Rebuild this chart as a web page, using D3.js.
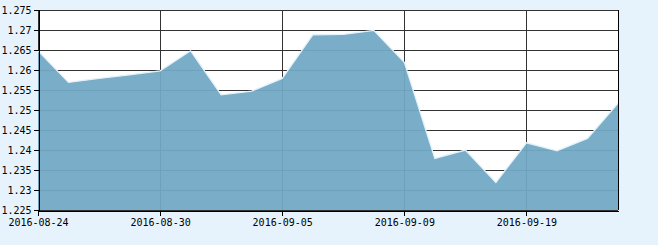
<!DOCTYPE html>
<html>
<head>
<meta charset="utf-8">
<script src="https://cdn.jsdelivr.net/npm/d3@7"></script>
<style>
  body { margin: 0; background: #e7f3fc; }
  text { font-family: "DejaVu Sans Mono", "Liberation Mono", monospace; font-size: 10px; fill: #000; }
</style>
</head>
<body>
<div id="chart"></div>
<script>
// trading days and closing values
const dates = ["2016-08-24","2016-08-25","2016-08-26","2016-08-29","2016-08-30",
  "2016-08-31","2016-09-01","2016-09-02","2016-09-05","2016-09-06",
  "2016-09-07","2016-09-08","2016-09-09","2016-09-12","2016-09-13",
  "2016-09-14","2016-09-19","2016-09-20","2016-09-21","2016-09-22"];
const values = [1.2648, 1.2569, 1.2579, 1.2588, 1.2598,
  1.2648, 1.2538, 1.2547, 1.2579, 1.2688,
  1.2689, 1.2699, 1.2619, 1.2379, 1.2400,
  1.2319, 1.2418, 1.2398, 1.2429, 1.2517];
const xTicks = ["2016-08-24","2016-08-30","2016-09-05","2016-09-09","2016-09-19"];
const yTicks = [1.225,1.23,1.235,1.24,1.245,1.25,1.255,1.26,1.265,1.27,1.275];

const W = 658, H = 245;
const m = {left: 38, right: 40, top: 10, bottom: 35};

const svg = d3.select("#chart").append("svg").attr("width", W).attr("height", H);

const x = d3.scalePoint().domain(dates).range([m.left, W - m.right]);
const y = d3.scaleLinear().domain([1.225, 1.275]).range([H - m.bottom, m.top]);

// plot background
svg.append("rect")
  .attr("x", m.left).attr("y", m.top)
  .attr("width", W - m.right - m.left).attr("height", H - m.bottom - m.top)
  .attr("fill", "#fff");

// grid
const g = svg.append("g").attr("shape-rendering", "crispEdges");
g.selectAll(".hy").data(yTicks).enter().append("line")
  .attr("x1", m.left).attr("x2", W - m.right)
  .attr("y1", d => Math.round(y(d)) + 0.5).attr("y2", d => Math.round(y(d)) + 0.5)
  .attr("stroke", "#333");
g.selectAll(".vx").data(xTicks).enter().append("line")
  .attr("x1", d => Math.round(x(d)) + 0.5).attr("x2", d => Math.round(x(d)) + 0.5)
  .attr("y1", m.top).attr("y2", H - m.bottom)
  .attr("stroke", "#333");

// area
const area = d3.area()
  .x((d, i) => x(dates[i]))
  .y0(y(1.225))
  .y1(d => y(d));
svg.append("path").datum(values)
  .attr("d", area)
  .attr("fill", "#72a8c5")
  .attr("fill-opacity", 0.94);
const line = d3.line().x((d, i) => x(dates[i])).y(d => y(d));
svg.append("path").datum(values)
  .attr("d", line)
  .attr("fill", "none")
  .attr("stroke", "#e2f1fa")
  .attr("stroke-width", 1.3);

// right border
svg.append("line")
  .attr("x1", W - m.right + 0.5).attr("x2", W - m.right + 0.5)
  .attr("y1", m.top).attr("y2", H - m.bottom)
  .attr("stroke", "#000").attr("shape-rendering", "crispEdges");

// axes
const yAxis = svg.append("g")
  .attr("transform", `translate(${m.left + 0.5},0)`)
  .attr("shape-rendering", "crispEdges")
  .call(d3.axisLeft(y).tickValues(yTicks).tickSize(5).tickPadding(2)
    .tickFormat(d => d3.format(".3~f")(d)));
yAxis.selectAll("path, line").attr("stroke", "#000");
yAxis.selectAll("text").style("font-family", null).style("font-size", null).attr("font-family", null).attr("font-size", null);

const xAxis = svg.append("g")
  .attr("transform", `translate(0,${H - m.bottom + 0.5})`)
  .attr("shape-rendering", "crispEdges")
  .call(d3.axisBottom(x).tickValues(xTicks).tickSize(5).tickSizeOuter(0).tickPadding(3));
xAxis.selectAll("path, line").attr("stroke", "#000");
xAxis.selectAll("text").attr("font-family", null).attr("font-size", null);
svg.selectAll(".tick line").attr("transform", null);
xAxis.selectAll(".tick line").attr("y2", 5);
</script>
</body>
</html>
